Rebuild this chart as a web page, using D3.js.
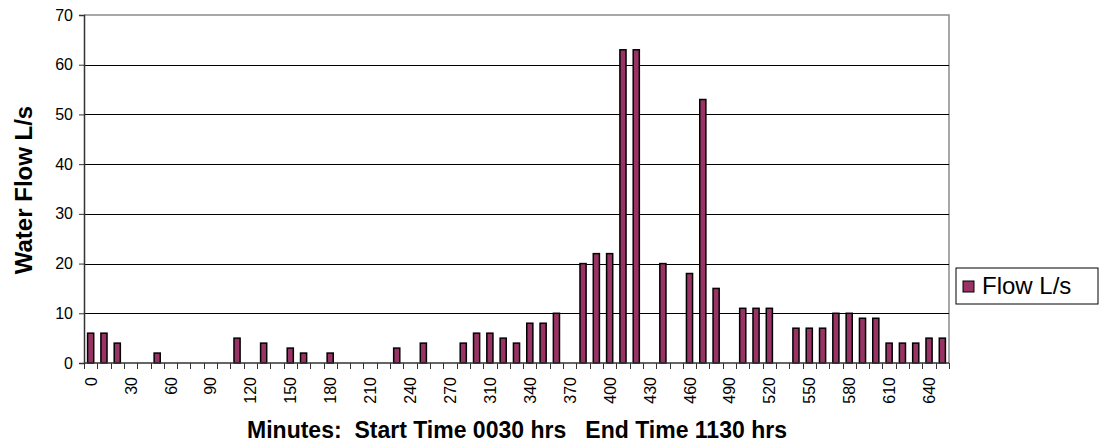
<!DOCTYPE html>
<html>
<head>
<meta charset="utf-8">
<script src="https://cdn.jsdelivr.net/npm/d3@7"></script>
<style>
  body { margin: 0; background: #fff; }
  text { font-family: "Liberation Sans", Arial, sans-serif; }
</style>
</head>
<body>
<div id="chart"></div>
<script>
// minutes (categories) - one reading missing around 280
var minutes = [0, 10, 20, 30, 40, 50, 60, 70, 80, 90, 100, 110, 120, 130, 140, 150, 160, 170, 180, 190,
  200, 210, 220, 230, 240, 250, 260, 270, 290, 300, 310, 320, 330, 340, 350, 360, 370, 380, 390, 400,
  410, 420, 430, 440, 450, 460, 470, 480, 490, 500, 510, 520, 530, 540, 550, 560, 570, 580, 590, 600,
  610, 620, 630, 640, 650];
var flow = [6, 6, 4, 0, 0, 2, 0, 0, 0, 0, 0, 5, 0, 4, 0, 3, 2, 0, 2, 0,
  0, 0, 0, 3, 0, 4, 0, 0, 4, 6, 6, 5, 4, 8, 8, 10, 0, 20, 22, 22,
  63, 63, 0, 20, 0, 18, 53, 15, 0, 11, 11, 11, 0, 7, 7, 7, 10, 10, 9, 9,
  4, 4, 4, 5, 5];
var yTicks = [0, 10, 20, 30, 40, 50, 60, 70];
var seriesName = 'Flow L/s';

var W = 1104, H = 446;
var margin = { top: 15, left: 84 };
var width = 949 - margin.left;
var height = 363 - margin.top;

var svg = d3.select('#chart').append('svg')
  .attr('width', W)
  .attr('height', H);

var g = svg.append('g')
  .attr('transform', 'translate(' + margin.left + ',' + margin.top + ')');

var x = d3.scaleBand()
  .domain(minutes)
  .range([0, width])
  .paddingInner(0.54)
  .paddingOuter(0.27);

var y = d3.scaleLinear()
  .domain([0, 70])
  .range([height, 0]);

//plot border (gray top + right)
g.append('path')
  .attr('d', 'M0,0H' + width + 'V' + height)
  .attr('fill', 'none')
  .attr('stroke', '#8c8c8c')
  .attr('stroke-width', 1.5);

//gridlines
g.append('g')
  .selectAll('line')
  .data(yTicks.filter(function (d) { return d > 0 && d < 70; }))
  .enter().append('line')
  .attr('x1', 0).attr('x2', width)
  .attr('y1', function (d) { return Math.round(y(d)) + 0.5; })
  .attr('y2', function (d) { return Math.round(y(d)) + 0.5; })
  .attr('stroke', '#000')
  .attr('stroke-width', 1);

//bars
var rows = minutes.map(function (m, i) { return { m: m, v: flow[i] }; })
  .filter(function (d) { return d.v > 0; });

g.append('g')
  .selectAll('rect')
  .data(rows)
  .enter().append('rect')
  .attr('x', function (d) { return x(d.m); })
  .attr('width', x.bandwidth())
  .attr('y', function (d) { return y(d.v); })
  .attr('height', function (d) { return height - y(d.v); })
  .attr('fill', '#993366')
  .attr('stroke', '#000')
  .attr('stroke-width', 1.5);

//y axis
var axisY = d3.axisLeft(y).tickValues(yTicks).tickSize(5).tickPadding(6);
var gy = g.append('g').call(axisY);
gy.select('.domain').attr('stroke', '#333').attr('stroke-width', 1.5);
gy.selectAll('line').attr('stroke', '#333');
gy.selectAll('text').attr('font-size', 16).attr('fill', '#000')
  .style('font-family', '"Liberation Sans", Arial, sans-serif');

//x axis: ticks at category boundaries
var gx = g.append('g').attr('transform', 'translate(0,' + height + ')');
gx.append('line')
  .attr('x1', 0).attr('x2', width)
  .attr('stroke', '#333').attr('stroke-width', 1.5);
gx.selectAll('line.tk')
  .data(d3.range(minutes.length + 1))
  .enter().append('line')
  .attr('class', 'tk')
  .attr('x1', function (i) { return Math.round(i * width / minutes.length) + 0.5; })
  .attr('x2', function (i) { return Math.round(i * width / minutes.length) + 0.5; })
  .attr('y1', 0).attr('y2', 6)
  .attr('stroke', '#333');
gx.selectAll('text')
  .data(minutes.filter(function (m, i) { return i % 3 === 0; }))
  .enter().append('text')
  .attr('transform', function (d) {
    return 'translate(' + (x(d) + x.bandwidth() / 2 + 6) + ',14) rotate(-90)';
  })
  .attr('text-anchor', 'end')
  .attr('font-size', 16)
  .text(function (d) { return d; });

//axis titles
svg.append('text')
  .attr('x', 517).attr('y', 438)
  .attr('text-anchor', 'middle')
  .attr('font-size', 23)
  .attr('font-weight', 'bold')
  .style('white-space', 'pre')
  .text('Minutes:  Start Time 0030 hrs   End Time 1130 hrs');

svg.append('text')
  .attr('transform', 'translate(32,190) rotate(-90)')
  .attr('text-anchor', 'middle')
  .attr('font-size', 24)
  .attr('font-weight', 'bold')
  .text('Water Flow L/s');

//legend
var lg = svg.append('g').attr('transform', 'translate(956,268)');
lg.append('rect')
  .attr('width', 142).attr('height', 36)
  .attr('fill', '#fff')
  .attr('stroke', '#000');
lg.append('rect')
  .attr('x', 7).attr('y', 13).attr('width', 11).attr('height', 11)
  .attr('fill', '#993366')
  .attr('stroke', '#000');
lg.append('text')
  .attr('x', 26).attr('y', 26)
  .attr('font-size', 24)
  .text(seriesName);
</script>
</body>
</html>
